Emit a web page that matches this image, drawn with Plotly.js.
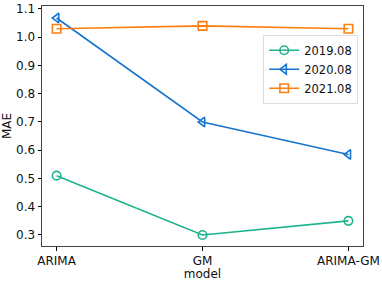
<!DOCTYPE html>
<html><head><meta charset="utf-8">
<script src="https://cdn.plot.ly/plotly-3.0.1.min.js"></script>
<style>html,body{margin:0;padding:0;background:#fff}#chart{width:382px;height:281px}</style>
</head><body><div id="chart"></div>
<script>
const models = ["ARIMA", "GM", "ARIMA-GM"];
const s2019 = [0.51, 0.30, 0.35];
const s2020 = [1.068, 0.70, 0.585];
const s2021 = [1.03, 1.04, 1.03];
const seriesNames = ["2019.08", "2020.08", "2021.08"];
const yTicks = [0.3, 0.4, 0.5, 0.6, 0.7, 0.8, 0.9, 1.0, 1.1];

const colors = ["#1db38d", "#1874cd", "#ff7f0e"];
const symbols = ["circle-open", "triangle-left-open", "square-open"];
const data = [s2019, s2020, s2021].map((ys, i) => ({
  x: [0, 1, 2], y: ys, name: seriesNames[i], type: "scatter", mode: "lines+markers",
  line: {color: colors[i], width: 1.6},
  marker: {symbol: symbols[i], size: 8.5, color: colors[i], line: {width: 1.6, color: colors[i]}}
}));
const font = {family: "DejaVu Sans", size: 12, color: "#111"};
const layout = {
  width: 382, height: 281,
  margin: {l: 42, r: 19, t: 6, b: 35},
  paper_bgcolor: "#fff", plot_bgcolor: "#fff",
  font: font, showlegend: true,
  xaxis: {range: [-0.1, 2.1], tickvals: [0, 1, 2], ticktext: models, ticks: "outside", ticklen: 3.5,
    tickcolor: "#000", showgrid: false, zeroline: false, showline: true, linecolor: "#444", linewidth: 1, mirror: true,
    title: {text: "model", font: font, standoff: 0}},
  yaxis: {range: [0.261, 1.1105], tickvals: yTicks, ticktext: yTicks.map(v => v.toFixed(1)), ticks: "outside", ticklen: 3.5,
    tickcolor: "#000", showgrid: false, zeroline: false, showline: true, linecolor: "#444", linewidth: 1, mirror: true,
    title: {text: "MAE", font: font, standoff: 4}},
  legend: {x: 0.985, y: 0.88, xanchor: "right", yanchor: "top", bgcolor: "rgba(255,255,255,0.8)",
    bordercolor: "#ddd", borderwidth: 1, font: {family: "DejaVu Sans", size: 11.5, color: "#111"},
    tracegroupgap: 0, itemwidth: 30}
};
Plotly.newPlot("chart", data, layout, {staticPlot: true});
</script></body></html>
